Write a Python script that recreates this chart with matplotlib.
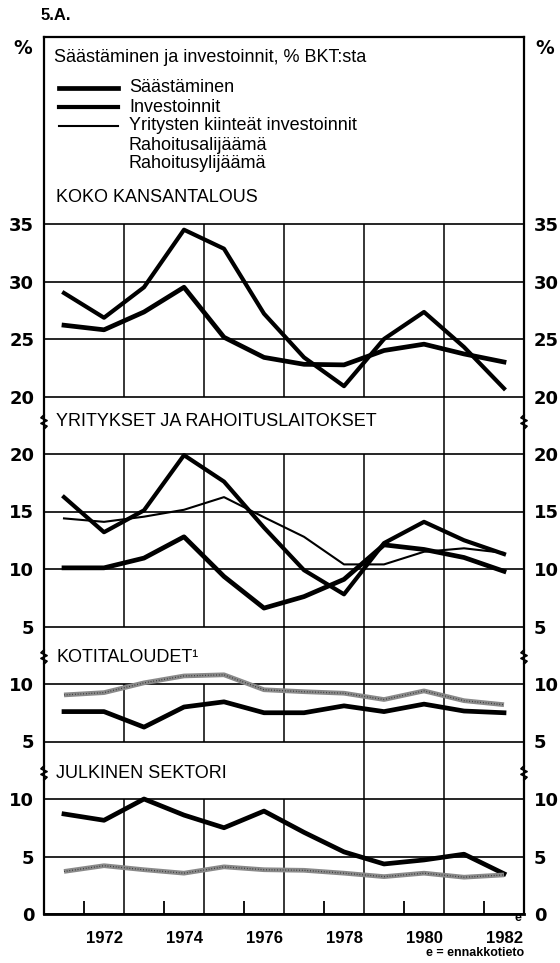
"""
5.A. Säästäminen ja investoinnit, % BKT:sta
neljä sektoripaneelia samassa kehyksessä
"""
import matplotlib
matplotlib.use('Agg')
import matplotlib.pyplot as plt
from matplotlib.lines import Line2D

plt.rcParams['font.family'] = ['Liberation Sans', 'DejaVu Sans']

years = list(range(1971, 1983))

koko_saast = [26.2, 25.8, 27.35, 29.5, 25.15, 23.4, 22.8, 22.75, 24.0, 24.55, 23.7, 23.0]
koko_inv = [29.0, 26.85, 29.5, 34.5, 32.85, 27.2, 23.4, 20.9, 25.0, 27.35, 24.3, 20.7]

yrit_saast = [10.1, 10.1, 10.95, 12.8, 9.35, 6.6, 7.6, 9.1, 12.1, 11.7, 11.0, 9.8]
yrit_inv = [16.25, 13.2, 15.1, 19.9, 17.6, 13.6, 9.9, 7.8, 12.25, 14.1, 12.5, 11.3]
yrit_kiint = [14.4, 14.1, 14.55, 15.15, 16.25, 14.5, 12.8, 10.4, 10.4, 11.5, 11.8, 11.4]

koti_saast = [7.6, 7.6, 6.25, 8.0, 8.45, 7.5, 7.5, 8.1, 7.6, 8.25, 7.65, 7.5]
koti_inv = [9.05, 9.25, 10.1, 10.7, 10.8, 9.5, 9.33, 9.2, 8.65, 9.4, 8.55, 8.2]

julk_saast = [8.7, 8.15, 10.0, 8.6, 7.5, 8.95, 7.1, 5.4, 4.35, 4.7, 5.2, 3.5]
julk_inv = [3.7, 4.2, 3.85, 3.55, 4.1, 3.85, 3.8, 3.55, 3.25, 3.55, 3.2, 3.4]

panel_titles = ['KOKO KANSANTALOUS', 'YRITYKSET JA RAHOITUSLAITOKSET',
                'KOTITALOUDET\u00b9', 'JULKINEN SEKTORI']
panel_ranges = [(20, 35), (5, 20), (5, 10), (0, 10)]
year_labels = [1972, 1974, 1976, 1978, 1980, 1982]

legend_title = 'Säästäminen ja investoinnit, % BKT:sta'
legend_names = ['Säästäminen', 'Investoinnit', 'Yritysten kiinteät investoinnit',
                'Rahoitusalijäämä', 'Rahoitusylijäämä']

# --- layout (pixels) ---
W, H = 560, 963
X0, X1 = 44, 524
TOP = 37
PX_PER_UNIT = 11.5
panel_tops = [224, 454, 684, 799]
label_y = [197, 422, 657, 773]
gap_grid_from = [None, 1980.5, 1976.5, 1978.5]   # gridlines continuing through gaps
vgrid = [1972.5, 1974.5, 1976.5, 1978.5, 1980.5]
XLIM = (1970.5, 1982.5)
TXT = 13

fig = plt.figure(figsize=(W / 100, H / 100), dpi=100)


def px_axes(x0, y0, x1, y1, **kw):
    return fig.add_axes([x0 / W, 1 - y1 / H, (x1 - x0) / W, (y1 - y0) / H], **kw)


bg = px_axes(0, 0, W, H)
bg.set_xlim(0, W)
bg.set_ylim(H, 0)
bg.axis('off')

fr = px_axes(X0, TOP, X1, 914)
fr.set_xlim(*XLIM)
fr.set_ylim(914, TOP)
fr.axis('off')
fr.patch.set_alpha(0)

STIPPLE = '#8a8a8a'


def stipple(ax, x, y):
    ax.plot(x, y, color=STIPPLE, lw=3.4, solid_capstyle='butt', clip_on=False, zorder=3)
    ax.plot(x, y, color='#2a2a2a', lw=0.9, ls=(0, (0.6, 1.6)), clip_on=False, zorder=4)


axes = []
for i, (lo, hi) in enumerate(panel_ranges):
    top = panel_tops[i]
    bot = top + (hi - lo) * PX_PER_UNIT
    ax = px_axes(X0, top, X1, bot)
    ax.patch.set_alpha(0)
    ax.set_xlim(*XLIM)
    ax.set_ylim(lo, hi)
    for s in ax.spines.values():
        s.set_visible(False)
    yt = list(range(lo, hi + 1, 5))
    ax.set_yticks(yt)
    ax.tick_params(axis='y', length=0, labelleft=True, labelright=True, pad=7)
    for lab in ax.get_yticklabels():
        lab.set_fontfamily('DejaVu Sans')
        lab.set_fontweight('bold')
        lab.set_fontsize(13)
    for v in yt:
        ax.axhline(v, color='black', lw=1.2, clip_on=False, zorder=1)
    for g in vgrid:
        ax.axvline(g, color='black', lw=1.1, zorder=1)
    ax.set_xticks([])
    axes.append(ax)

    # gridlines continuing through the gap above the panel
    if gap_grid_from[i] is not None:
        prev_bot = panel_tops[i - 1] + (panel_ranges[i - 1][1] - panel_ranges[i - 1][0]) * PX_PER_UNIT
        for g in vgrid:
            if g >= gap_grid_from[i]:
                fr.vlines(g, prev_bot, top, color='black', lw=1.1)

ax1, ax2, ax3, ax4 = axes
ax1.plot(years, koko_inv, color='black', lw=3.0, clip_on=False, zorder=3)
ax1.plot(years, koko_saast, color='black', lw=3.4, clip_on=False, zorder=3)

ax2.plot(years, yrit_kiint, color='black', lw=1.5, clip_on=False, zorder=3)
ax2.plot(years, yrit_inv, color='black', lw=3.0, clip_on=False, zorder=3)
ax2.plot(years, yrit_saast, color='black', lw=3.4, clip_on=False, zorder=3)

stipple(ax3, years, koti_inv)
ax3.plot(years, koti_saast, color='black', lw=3.4, clip_on=False, zorder=3)

ax4.plot(years, julk_saast, color='black', lw=3.4, clip_on=False, zorder=3)
stipple(ax4, years, julk_inv)

# bottom axis
ax4.axhline(0, color='black', lw=2.0, clip_on=False, zorder=2)
ax4.set_xticks(year_labels)
ax4.set_xticklabels([str(y) for y in year_labels], fontsize=12, fontweight='bold')
ax4.tick_params(axis='x', which='major', length=0, pad=12)
ax4.set_xticks([y + 0.5 for y in range(1971, 1982, 2)], minor=True)
ax4.tick_params(axis='x', which='minor', direction='in', length=9.5, width=1.3, color='black')

# outer frame
fr.plot([XLIM[0], XLIM[0]], [TOP, 914], color='black', lw=1.6, clip_on=False)
fr.plot([XLIM[1], XLIM[1]], [TOP, 914], color='black', lw=1.6, clip_on=False)
fr.plot([XLIM[0], XLIM[1]], [TOP, TOP], color='black', lw=1.6, clip_on=False)

# break marks on the side lines
zx = [0, -3, 3, -3, 3, 0]
zy = [-7, -4.2, -1.4, 1.4, 4.2, 7]
for yy in label_y[1:]:
    for xe in (X0, X1):
        bg.add_patch(plt.Rectangle((xe - 2, yy - 6), 4, 12, color='white', zorder=5))
        bg.plot([xe + dx for dx in zx], [yy + dy for dy in zy], color='black', lw=1.3, zorder=6)

# panel titles
for t, yy in zip(panel_titles, label_y):
    bg.text(56, yy, t, fontsize=TXT, va='center', ha='left')

# legend block
bg.text(54, 58, legend_title, fontsize=TXT, va='center', ha='left')
leg_y = [88, 107, 126, 145, 164]
leg_lw = [3.4, 3.0, 1.5]
for yy, name in zip(leg_y, legend_names):
    bg.text(129, yy, name, fontsize=TXT, va='center', ha='left')
for yy, lw in zip(leg_y, leg_lw):
    bg.add_line(Line2D([59, 118], [yy, yy], color='black', lw=lw))

# corner texts
bg.text(41, 16, '5.A.', fontsize=12, fontweight='bold', va='center', ha='left')
bg.text(23, 48, '%', fontsize=13.5, fontweight='bold', va='center', ha='center',
        family='DejaVu Sans')
bg.text(545, 48, '%', fontsize=13.5, fontweight='bold', va='center', ha='center',
        family='DejaVu Sans')
bg.text(X1, 953, 'e = ennakkotieto', fontsize=9, fontweight='bold', va='center', ha='right')
bg.text(518, 918, 'e', fontsize=9, fontweight='bold', va='center', ha='center')

fig.savefig('out.png', dpi=100)
